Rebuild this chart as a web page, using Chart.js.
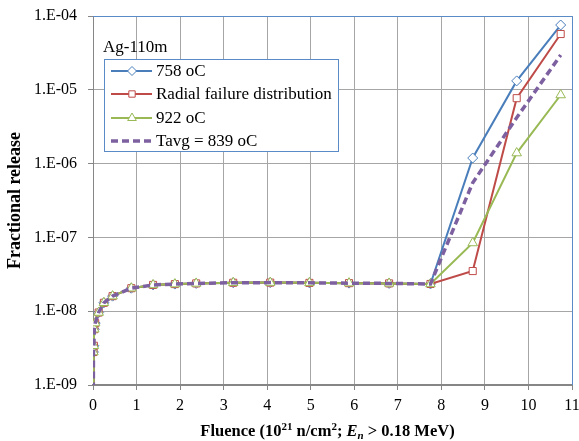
<!DOCTYPE html>
<html><head><meta charset="utf-8">
<script src="https://cdn.jsdelivr.net/npm/chart.js@4.4.0/dist/chart.umd.min.js"></script>
<style>html,body{margin:0;padding:0;background:#fff}</style>
</head><body>
<canvas id="c" width="579" height="441"></canvas>
<script>
// ---- data ----
const fluenceShared = [0, 0.01, 0.02, 0.03, 0.05, 0.13, 0.25, 0.45, 0.88, 1.38, 1.88, 2.37, 3.22, 4.07, 4.97, 5.88, 6.80, 7.75];
const releaseShared = [1e-11, 2.8e-9, 3.4e-9, 5.7e-9, 6.9e-9, 9.6e-9, 1.3e-8, 1.6e-8, 2.05e-8, 2.27e-8, 2.33e-8, 2.38e-8, 2.43e-8, 2.44e-8, 2.42e-8, 2.40e-8, 2.38e-8, 2.34e-8];
const fluenceHigh = [8.72, 9.73, 10.74];
const release758 = [1.19e-6, 1.32e-5, 7.55e-5];
const releaseRadial = [3.5e-8, 7.7e-6, 5.7e-5];
const release922 = [8.4e-8, 1.39e-6, 8.5e-6];
const releaseTavg = [5.5e-7, 4.2e-6, 2.96e-5];
const seriesNames = ['758 oC', 'Radial failure distribution', '922 oC', 'Tavg = 839 oC'];
const yTickExponents = [-9, -8, -7, -6, -5, -4];
const xTickValues = [0, 1, 2, 3, 4, 5, 6, 7, 8, 9, 10, 11];
const legendTitle = 'Ag-110m';
const yAxisTitle = 'Fractional release';

function pts(xs, ys) { return xs.map((x, i) => ({ x: x, y: ys[i] })); }
const allX = fluenceShared.concat(fluenceHigh);

const FONT = '"Liberation Serif", "Times New Roman", serif';
Chart.defaults.font.family = FONT;
Chart.defaults.font.size = 16;
Chart.defaults.color = '#000';

const datasets = [
  { label: seriesNames[0], data: pts(allX, releaseShared.concat(release758)), borderColor: '#4A7EBB', borderWidth: 2,
    pointStyle: 'rectRot', pointRadius: 5, pointBorderWidth: 1, pointBackgroundColor: '#fff', pointBorderColor: '#4A7EBB', order: 4 },
  { label: seriesNames[1], data: pts(allX, releaseShared.concat(releaseRadial)), borderColor: '#BE4B48', borderWidth: 2,
    pointStyle: 'rect', pointRadius: 5, pointBorderWidth: 1, pointBackgroundColor: '#fff', pointBorderColor: '#BE4B48', order: 3 },
  { label: seriesNames[2], data: pts(allX, releaseShared.concat(release922)), borderColor: '#98B954', borderWidth: 2,
    pointStyle: 'triangle', pointRadius: 5.5, pointBorderWidth: 1, pointBackgroundColor: '#fff', pointBorderColor: '#98B954', order: 2 },
  { label: seriesNames[3], data: pts(allX, releaseShared.concat(releaseTavg)), borderColor: '#7D60A0', borderWidth: 3.5,
    borderDash: [7, 4], pointRadius: 0, order: 1 }
];

const decorPlugin = {
  id: 'decor',
  afterDraw(chart) {
    const ctx = chart.ctx, a = chart.chartArea;
    ctx.save();
    // plot-area border (top and right)
    ctx.strokeStyle = '#5B8BC7'; ctx.lineWidth = 1; ctx.setLineDash([]);
    ctx.beginPath();
    ctx.moveTo(a.left, a.top + 0.5); ctx.lineTo(a.right + 0.5, a.top + 0.5); ctx.lineTo(a.right + 0.5, a.bottom);
    ctx.stroke();

    // legend
    ctx.font = '17px ' + FONT;
    ctx.fillStyle = '#000'; ctx.textBaseline = 'middle'; ctx.textAlign = 'left';
    ctx.fillText(legendTitle, 103, 48);
    ctx.fillStyle = '#fff'; ctx.fillRect(104.5, 59.5, 234, 92);
    ctx.strokeStyle = '#5B8BC7'; ctx.lineWidth = 1; ctx.strokeRect(104.5, 59.5, 234, 92);
    const rows = [71, 94, 118, 141];
    chart.data.datasets.forEach((ds, i) => {
      const y = rows[i];
      ctx.save();
      ctx.strokeStyle = ds.borderColor; ctx.lineWidth = ds.borderWidth;
      ctx.setLineDash(ds.borderDash || []);
      ctx.beginPath(); ctx.moveTo(111, y); ctx.lineTo(152, y); ctx.stroke();
      ctx.setLineDash([]);
      if (ds.pointRadius > 0) {
        ctx.fillStyle = ds.pointBackgroundColor; ctx.strokeStyle = ds.pointBorderColor; ctx.lineWidth = ds.pointBorderWidth;
        Chart.helpers.drawPoint(ctx, { pointStyle: ds.pointStyle, radius: ds.pointRadius - 0.5, borderWidth: ds.pointBorderWidth, rotation: 0 }, 132, y);
      }
      ctx.restore();
      ctx.fillStyle = '#000'; ctx.font = '17px ' + FONT;
      ctx.fillText(ds.label, 156, y + 1);
    });

    // x-axis title with superscripts / subscript
    const segs = [
      { t: 'Fluence (10', f: 'bold 16.5px', dy: 0 },
      { t: '21', f: 'bold 11px', dy: -6 },
      { t: ' n/cm', f: 'bold 16.5px', dy: 0 },
      { t: '2', f: 'bold 11px', dy: -6 },
      { t: '; ', f: 'bold 16.5px', dy: 0 },
      { t: 'E', f: 'italic bold 16.5px', dy: 0 },
      { t: 'n', f: 'italic bold 11px', dy: 3 },
      { t: ' > 0.18 MeV)', f: 'bold 16.5px', dy: 0 }
    ];
    let total = 0;
    segs.forEach(s => { ctx.font = s.f + ' ' + FONT; s.w = ctx.measureText(s.t).width; total += s.w; });
    let x = 327.5 - total / 2;
    const base = 436;
    ctx.textBaseline = 'alphabetic'; ctx.fillStyle = '#000';
    segs.forEach(s => { ctx.font = s.f + ' ' + FONT; ctx.fillText(s.t, x, base + s.dy); x += s.w; });
    ctx.restore();
  }
};

new Chart(document.getElementById('c'), {
  type: 'line',
  data: { datasets: datasets },
  plugins: [decorPlugin],
  options: {
    responsive: false,
    animation: false,
    layout: { padding: { top: 16, right: 7, left: 0, bottom: 0 } },
    plugins: { legend: { display: false }, tooltip: { enabled: false } },
    elements: { line: { tension: 0, fill: false } },
    scales: {
      x: {
        type: 'linear', min: 0, max: 11,
        afterBuildTicks: s => { s.ticks = xTickValues.map(v => ({ value: v })); },
        afterFit: s => { s.height = 56; s.paddingLeft = 0; s.paddingRight = 0; },
        ticks: { padding: 6, font: { size: 16 }, maxRotation: 0, autoSkip: false },
        grid: { color: '#a6a6a6', borderDash: [1, 2], lineWidth: 1, drawTicks: true, tickLength: 5,
                tickColor: '#868686', tickBorderDash: [], tickWidth: 1 },
        border: { display: true, color: '#868686', width: 2 },
        title: { display: false }
      },
      y: {
        type: 'logarithmic', min: 1e-9, max: 1e-4,
        afterBuildTicks: s => { s.ticks = yTickExponents.map(e => ({ value: Math.pow(10, e) })); },
        afterFit: s => { s.width = 93; s.paddingTop = 0; s.paddingBottom = 0; },
        ticks: {
          padding: 11, font: { size: 16 }, autoSkip: false,
          callback: v => { const e = Math.round(Math.log10(v)); return '1.E' + (e < 0 ? '-' : '+') + String(Math.abs(e)).padStart(2, '0'); }
        },
        grid: { color: '#a6a6a6', borderDash: [1, 2], lineWidth: 1, drawTicks: true, tickLength: 5,
                tickColor: '#868686', tickBorderDash: [], tickWidth: 1 },
        border: { display: true, color: '#868686', width: 1 },
        title: { display: true, text: yAxisTitle, font: { size: 18, weight: 'bold' }, padding: { top: 5, bottom: 0 } }
      }
    }
  }
});
</script>
</body></html>
